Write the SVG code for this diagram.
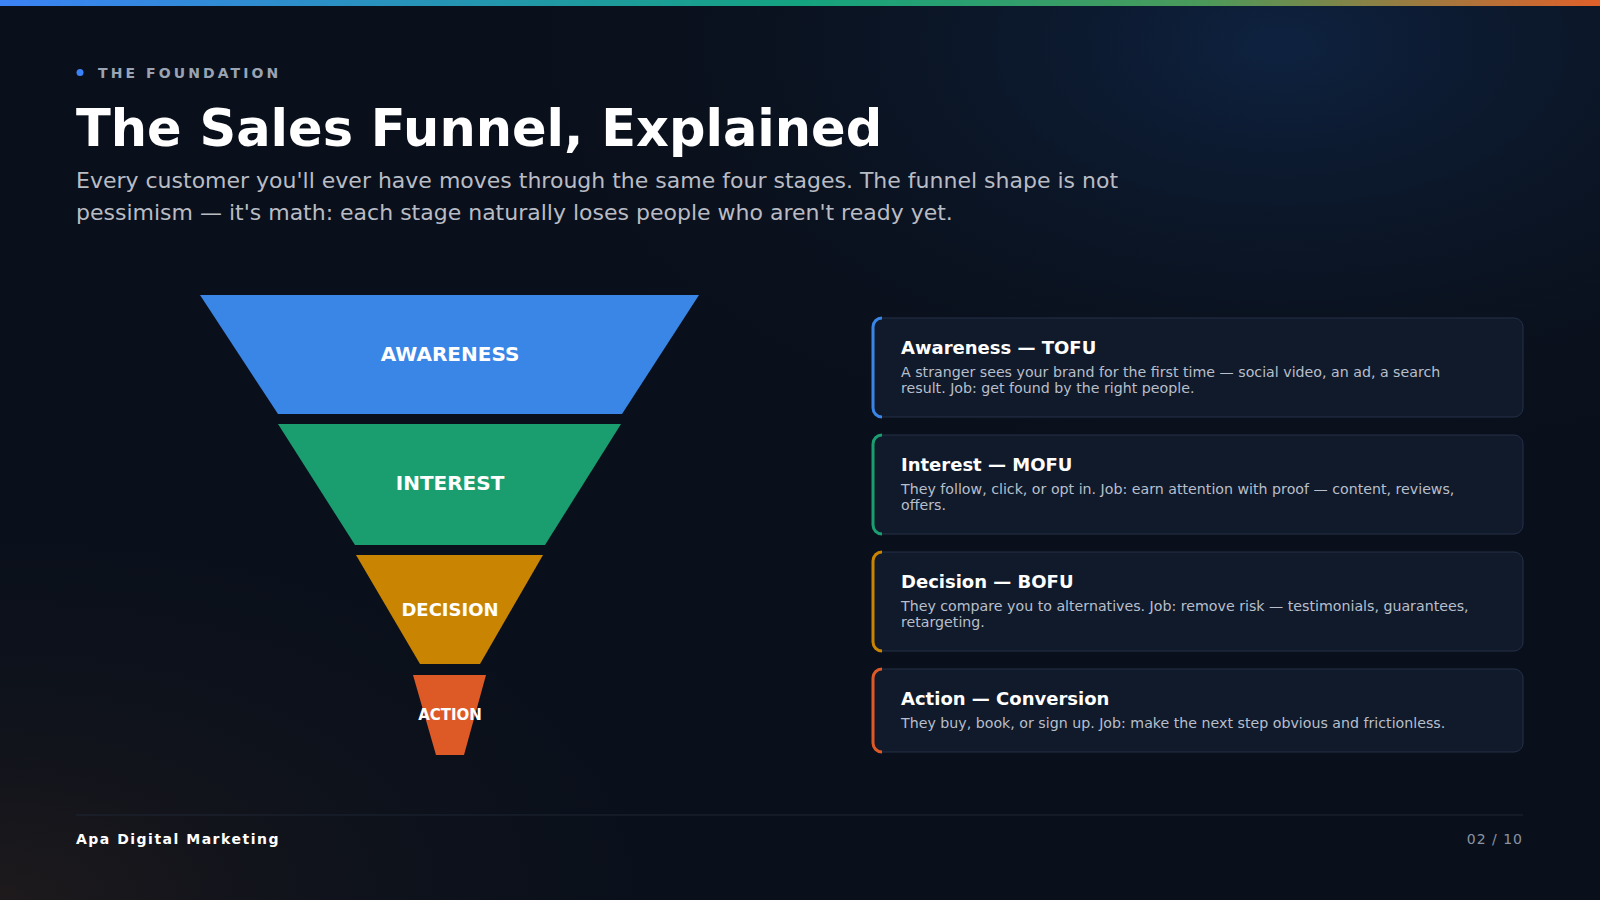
<svg xmlns="http://www.w3.org/2000/svg" width="1600" height="900" viewBox="0 0 1600 900">
<defs>
<linearGradient id="top" x1="0" x2="1"><stop offset="0" stop-color="#3b82f6"/><stop offset="0.5" stop-color="#14a37f"/><stop offset="0.75" stop-color="#4a9a5a"/><stop offset="1" stop-color="#e0602a"/></linearGradient>
<radialGradient id="g1" cx="0.8" cy="0.05" r="0.5"><stop offset="0" stop-color="#0e2240"/><stop offset="1" stop-color="#0a101b" stop-opacity="0"/></radialGradient>
<radialGradient id="g2" cx="0" cy="1" r="0.45"><stop offset="0" stop-color="#1e1a1c"/><stop offset="1" stop-color="#0a101b" stop-opacity="0"/></radialGradient>
</defs>
<style>
text{font-family:"DejaVu Sans","Noto Sans",sans-serif}
.lbl{fill:#fff;font-weight:bold;text-anchor:middle}
.card{fill:#111a2a;stroke:#243049;stroke-width:1}
.ct{fill:#fff;font-weight:bold;font-size:18px}
.cd{fill:#b7bfcc;font-size:14.2px}
</style>
<rect width="1600" height="900" fill="#0a101b"/>
<rect width="1600" height="900" fill="url(#g1)"/>
<rect width="1600" height="900" fill="url(#g2)"/>
<rect width="1600" height="6" fill="url(#top)"/>
<g id="header">
<circle cx="80" cy="72.5" r="3.5" fill="#3b82f6"/>
<text x="98" y="78" font-size="14" font-weight="bold" fill="#9aa3b2" letter-spacing="3.1">THE FOUNDATION</text>
<text x="76" y="146" font-size="51" font-weight="bold" fill="#fff">The Sales Funnel, Explained</text>
<text x="76" y="188" font-size="22" fill="#b9bcc4">Every customer you'll ever have moves through the same four stages. The funnel shape is not</text>
<text x="76" y="220" font-size="22" fill="#b9bcc4">pessimism — it's math: each stage naturally loses people who aren't ready yet.</text>
</g>
<g id="funnel-awareness"><polygon points="200,295 699,295 622,414 278,414" fill="#3a86e6"/><text class="lbl" x="450" y="361" font-size="20">AWARENESS</text></g>
<g id="funnel-interest"><polygon points="278,424 621,424 545,545 355,545" fill="#1a9e70"/><text class="lbl" x="450" y="490" font-size="20">INTEREST</text></g>
<g id="funnel-decision"><polygon points="356,555 543,555 480,664 420,664" fill="#c98502"/><text class="lbl" x="450" y="616" font-size="18">DECISION</text></g>
<g id="funnel-action"><polygon points="413,675 486,675 464,755 436,755" fill="#dd5a26"/><text class="lbl" x="450" y="720" font-size="15">ACTION</text></g>
<g id="card-awareness"><rect class="card" x="873" y="318" width="650" height="99" rx="9"/><path d="M882,318 a9,9 0 0 0 -9,9 v81 a9,9 0 0 0 9,9" fill="none" stroke="#3a86e6" stroke-width="3"/>
<text class="ct" x="901" y="354">Awareness — TOFU</text><text class="cd" x="901" y="377">A stranger sees your brand for the first time — social video, an ad, a search</text><text class="cd" x="901" y="393">result. Job: get found by the right people.</text></g>
<g id="card-interest"><rect class="card" x="873" y="435" width="650" height="99" rx="9"/><path d="M882,435 a9,9 0 0 0 -9,9 v81 a9,9 0 0 0 9,9" fill="none" stroke="#1a9e70" stroke-width="3"/>
<text class="ct" x="901" y="471">Interest — MOFU</text><text class="cd" x="901" y="494">They follow, click, or opt in. Job: earn attention with proof — content, reviews,</text><text class="cd" x="901" y="510">offers.</text></g>
<g id="card-decision"><rect class="card" x="873" y="552" width="650" height="99" rx="9"/><path d="M882,552 a9,9 0 0 0 -9,9 v81 a9,9 0 0 0 9,9" fill="none" stroke="#c98502" stroke-width="3"/>
<text class="ct" x="901" y="588">Decision — BOFU</text><text class="cd" x="901" y="611">They compare you to alternatives. Job: remove risk — testimonials, guarantees,</text><text class="cd" x="901" y="627">retargeting.</text></g>
<g id="card-action"><rect class="card" x="873" y="669" width="650" height="83" rx="9"/><path d="M882,669 a9,9 0 0 0 -9,9 v65 a9,9 0 0 0 9,9" fill="none" stroke="#dd5a26" stroke-width="3"/>
<text class="ct" x="901" y="705">Action — Conversion</text><text class="cd" x="901" y="728">They buy, book, or sign up. Job: make the next step obvious and frictionless.</text></g>
<g id="connectors"></g>
<g id="footer">
<line x1="76" y1="815" x2="1523" y2="815" stroke="#1f2735" stroke-width="1"/>
<text x="76" y="844" font-size="14" font-weight="bold" fill="#fff" letter-spacing="1.5">Apa Digital Marketing</text>
<text x="1523" y="844" font-size="14" fill="#8a93a3" text-anchor="end" letter-spacing="1">02 / 10</text>
</g>
</svg>
